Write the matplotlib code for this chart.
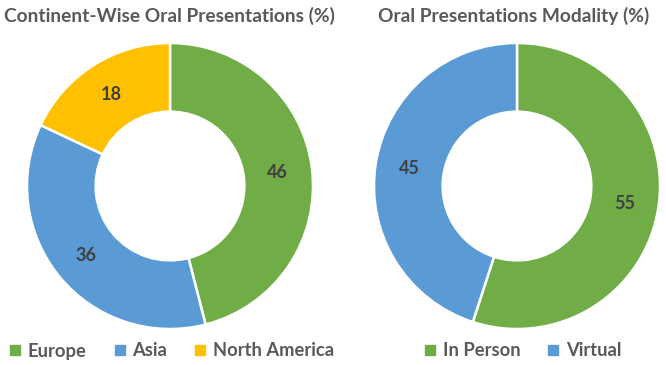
import matplotlib
matplotlib.use("Agg")
import matplotlib.pyplot as plt
from matplotlib.lines import Line2D

plt.rcParams['font.family'] = ['Lato', 'DejaVu Sans']

# Data
cont_labels = ["Europe", "Asia", "North America"]
cont_values = [46, 36, 18]
mode_labels = ["In Person", "Virtual"]
mode_values = [55, 45]

GREEN = "#70AD47"
BLUE = "#5B9BD5"
YELLOW = "#FFC000"
cont_colors = [GREEN, BLUE, YELLOW]
mode_colors = [GREEN, BLUE]
TITLE_C = "#595959"
LABEL_C = "#404040"

W, H = 666, 365
fig = plt.figure(figsize=(W / 100, H / 100), dpi=100)


def donut(cx, cy, r, values, colors):
    ax = fig.add_axes([(cx - r) / W, (H - cy - r) / H, 2 * r / W, 2 * r / H])
    wedges, texts = ax.pie(values, colors=colors, startangle=90, counterclock=False,
                           radius=1.0, labels=[str(v) for v in values], labeldistance=0.76,
                           wedgeprops=dict(width=0.48, edgecolor="white", linewidth=1.8),
                           textprops=dict(color=LABEL_C, fontsize=13, fontweight="bold"))
    for t in texts:
        t.set_ha("center")
        t.set_va("center")
    ax.set_xlim(-1, 1)
    ax.set_ylim(-1, 1)
    ax.set_axis_off()
    return ax


donut(170, 186, 143, cont_values, cont_colors)
donut(517, 186, 143, mode_values, mode_colors)

fig.text(169 / W, 1 - 16 / H, "Continent-Wise Oral Presentations (%)", ha="center", va="center",
         fontsize=13.8, fontweight="bold", color=TITLE_C)
fig.text(514 / W, 1 - 16 / H, "Oral Presentations Modality (%)", ha="center", va="center",
         fontsize=13.8, fontweight="bold", color=TITLE_C)


def make_legend(labels, colors, cx):
    handles = [Line2D([], [], marker="s", linestyle="none", markersize=7,
                      markerfacecolor=c, markeredgecolor=c) for c in colors]
    fig.legend(handles, labels, loc="center", bbox_to_anchor=(cx / W, 1 - 351 / H),
               ncol=len(labels), frameon=False, handlelength=0.6, handletextpad=0.4,
               columnspacing=1.5, prop=dict(family=['Lato', 'DejaVu Sans'], weight="bold", size=13.2),
               labelcolor=TITLE_C)


make_legend(cont_labels, cont_colors, 172)
make_legend(mode_labels, mode_colors, 523)

fig.savefig("out.png", dpi=100, facecolor="white")
